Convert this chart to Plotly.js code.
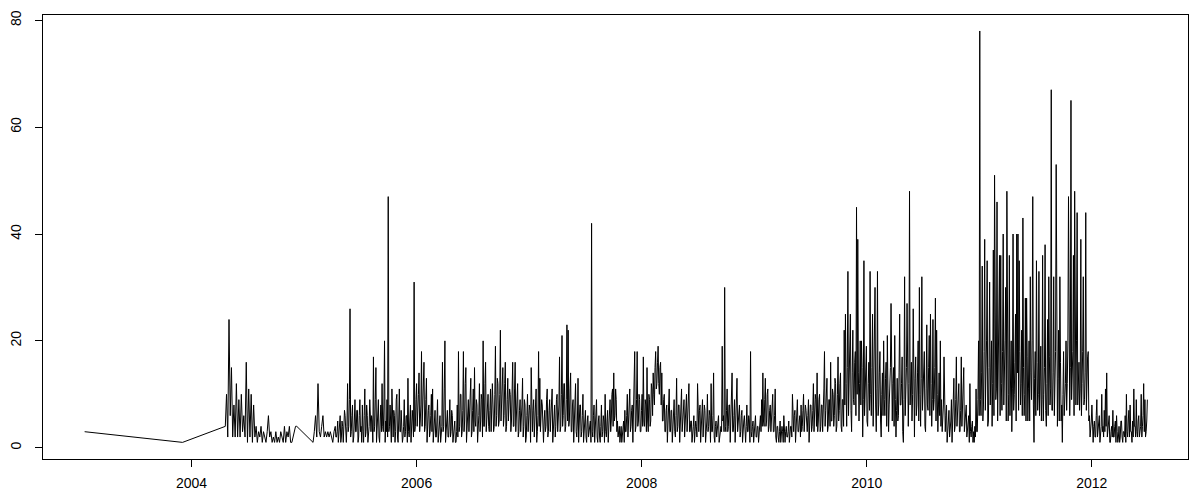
<!DOCTYPE html>
<html>
<head>
<meta charset="utf-8">
<script src="https://cdn.plot.ly/plotly-3.0.1.min.js"></script>
<style>html,body{margin:0;padding:0;background:#fff;}#chart{width:1202px;height:501px;}</style>
</head>
<body>
<div id="chart"></div>
<script>
// sparse early observations (decimal years)
const earlyYears = [2003.05, 2003.92];
const earlyCounts = [3, 1];

// 2004 observations, every 4 days
const segAStart = 2004.30;
const segAStepDays = 4;
const segACounts = [4,10,2,24,6,15,2,8,2,12, 2,9,2,10,3,6,2,16,1,11, 2,10,1,8,2,4,1,3,2,4,
  1,3,2,1,3,6,2,3,1,2, 1,3,1,2,1,3,2,1,4,1, 3,2,4,1,1,2,3,4,4];

// early 2005 observations, every 4 days
const segBStart = 2005.08;
const segBStepDays = 4;
const segBCounts = [1,3,6,2,12,3,2,4,6,2, 3,2,3,2,3,2,1,3];

// dense observations, every 2 days
const segCStart = 2005.277;
const segCStepDays = 2;
const segCCounts = [
  4,2,2,3,
  5,1,3,4,6,1,2,5,4,1,3,7,6,2,1,4,12,3,4,9,
  26,2,3,6,8,1,2,5,9,3,3,7,7,1,2,6,9,3,4,1,
  8,3,1,6,11,2,3,8,6,1,2,4,9,3,3,6,5,1,17,3,
  4,9,15,1,3,7,9,2,1,5,8,3,12,4,3,8,20,1,5,3,
  9,2,47,3,4,8,3,1,11,3,2,7,6,1,3,9,10,2,1,5,
  11,3,3,7,5,1,2,4,9,2,3,6,6,1,13,3,2,5,8,1,
  3,7,5,2,31,3,4,9,12,4,6,10,14,3,5,8,18,4,7,11,
  16,3,4,9,13,1,5,7,8,2,3,6,10,3,11,1,4,7,7,2,
  2,5,9,1,3,6,6,1,2,4,16,3,4,11,20,1,3,6,7,2,
  2,5,9,2,3,7,6,1,2,4,5,1,1,3,8,2,18,3,4,10,
  10,2,3,7,18,3,5,12,15,1,4,8,9,3,6,11,13,2,3,7,
  11,3,15,5,4,9,8,1,3,6,12,3,5,10,9,2,20,4,4,12,
  16,3,5,9,10,4,3,7,11,3,6,12,8,3,4,10,19,4,6,13,
  12,4,5,10,22,5,8,14,15,4,6,12,16,3,4,9,13,5,7,11,
  10,3,5,9,16,4,4,11,16,3,6,10,12,2,3,7,9,3,5,8,
  13,2,4,9,8,1,2,6,10,3,5,8,7,1,15,4,3,7,9,2,
  4,8,11,1,3,6,18,4,13,3,5,9,8,2,1,5,7,3,4,9,
  11,2,3,7,9,3,5,8,11,1,3,6,8,2,4,9,10,3,5,8,
  17,3,4,10,21,4,6,12,12,3,4,9,23,5,22,4,5,11,14,3,
  3,8,9,1,4,7,12,3,2,5,13,1,5,8,8,2,3,6,10,1,
  4,7,7,2,1,5,6,2,3,4,5,1,42,3,2,6,8,1,3,7,
  9,2,1,5,6,2,1,4,8,2,3,6,5,1,10,3,2,5,7,1,
  4,8,9,3,5,10,11,4,14,5,6,11,9,3,5,2,3,4,1,3,
  4,1,2,3,5,1,7,3,3,6,10,2,5,9,11,3,4,7,8,1,
  6,11,18,3,4,9,18,4,5,10,9,3,3,7,10,4,17,5,4,9,
  8,3,15,5,3,10,9,4,5,12,11,6,14,10,8,15,18,11,12,16,
  19,12,10,15,16,8,14,5,5,9,10,3,3,7,8,1,4,9,11,3,
  3,7,7,1,5,9,9,3,2,6,13,3,4,8,8,1,6,10,11,3,
  5,8,9,2,4,7,10,3,6,9,12,3,3,5,5,1,2,4,6,1,
  3,5,4,2,12,3,3,7,8,1,4,6,9,2,5,8,7,1,3,5,
  10,3,4,7,6,1,12,3,3,6,14,2,1,4,5,2,3,5,6,1,
  2,4,4,3,19,5,6,3,30,4,3,7,11,3,4,8,8,1,5,9,
  14,3,3,6,9,1,4,7,13,3,5,8,8,2,3,6,7,1,4,5,
  6,2,1,4,8,3,3,6,5,1,18,3,2,4,5,1,3,5,6,2,
  2,4,4,1,3,5,6,3,9,4,14,5,4,9,13,4,5,10,11,3,
  4,7,8,3,6,9,10,3,3,6,11,2,1,4,4,2,1,3,5,1,
  2,4,3,1,6,2,1,3,4,2,2,3,5,1,3,4,4,2,10,3,
  3,6,7,1,4,8,9,3,3,5,6,2,8,3,4,7,10,3,5,8,
  7,3,3,6,9,1,5,8,8,3,4,7,12,3,6,10,9,4,14,3,
  5,9,10,3,4,8,8,3,6,11,18,4,7,12,13,3,4,9,9,4,
  16,5,5,11,10,4,6,13,12,3,4,10,17,5,7,12,14,4,3,9,
  9,4,22,8,25,12,4,15,33,6,12,18,25,7,3,14,22,9,8,16,
  18,6,45,10,39,14,5,12,20,8,20,15,2,9,35,6,10,18,19,5,
  4,12,16,7,33,10,6,15,25,4,12,18,30,8,3,11,33,6,8,14,
  18,5,2,10,14,6,20,9,6,13,16,4,21,11,3,8,12,15,27,6,
  5,12,15,4,21,9,2,7,13,5,6,14,25,8,8,12,17,3,1,9,
  32,6,9,15,27,5,4,12,48,8,11,16,5,10,26,4,2,13,17,6,
  8,14,20,5,30,10,4,13,32,7,10,16,18,4,3,11,23,8,7,15,
  21,6,25,12,4,9,24,7,9,15,28,5,22,10,3,8,14,6,20,4,
  9,3,5,8,17,3,3,6,8,1,4,7,7,2,3,5,9,1,5,8,
  13,3,4,9,17,4,6,10,12,3,3,7,17,4,8,11,15,3,5,8,
  8,2,3,5,6,1,12,3,2,4,5,1,3,1,4,2,11,3,3,9,
  20,6,78,9,6,14,34,5,8,18,39,7,12,20,35,4,5,15,31,8,
  14,20,4,12,37,6,51,16,9,11,46,5,16,22,36,6,36,12,7,18,
  40,8,12,20,30,5,48,14,5,10,36,6,18,20,3,11,40,7,10,16,
  25,5,40,14,40,7,35,18,8,12,22,6,43,15,6,10,28,5,28,17,
  5,11,20,5,32,14,9,20,47,8,1,13,18,6,35,16,7,10,33,6,
  16,19,5,9,36,5,10,15,38,7,4,12,24,6,32,17,8,11,67,7,
  7,14,32,6,12,18,53,9,4,13,22,5,32,16,5,8,1,10,18,6,
  9,12,20,7,12,20,47,6,6,15,65,9,14,18,36,6,48,14,8,20,
  44,8,16,16,7,11,39,6,12,18,32,8,9,14,44,7,16,17,18,5,
  6,2,3,5,8,1,1,4,5,2,2,6,9,2,3,5,6,1,2,4,
  10,3,4,2,7,3,11,4,14,2,3,5,6,1,1,3,4,2,7,2,
  2,4,5,1,6,3,1,2,4,1,2,5,5,2,1,3,3,2,6,1,
  10,3,2,5,7,2,8,3,3,1,5,2,11,4,4,2,9,3,2,5,
  6,2,3,4,10,2,4,6,12,3,9,2,3,5,9
];

const xTickVals = [2004, 2006, 2008, 2010, 2012];
const xTickText = ["2004", "2006", "2008", "2010", "2012"];
const yTickVals = [0, 20, 40, 60, 80];
const yTickText = ["0", "20", "40", "60", "80"];

const xs = [], ys = [];
function addSeg(start, stepDays, counts) {
  counts.forEach((v, i) => { xs.push(start + i * stepDays / 365.25); ys.push(v); });
}
earlyYears.forEach((t, i) => { xs.push(t); ys.push(earlyCounts[i]); });
addSeg(segAStart, segAStepDays, segACounts);
addSeg(segBStart, segBStepDays, segBCounts);
addSeg(segCStart, segCStepDays, segCCounts);

const font = {family: "Liberation Sans, Arial, sans-serif", size: 14, color: "#000"};

Plotly.newPlot("chart", [{
  x: xs, y: ys, type: "scatter", mode: "lines",
  line: {color: "#000", width: 1}, hoverinfo: "skip"
}], {
  width: 1202, height: 501,
  margin: {l: 43, r: 14, t: 15, b: 42, pad: 0},
  paper_bgcolor: "#fff", plot_bgcolor: "#fff",
  showlegend: false,
  font: font,
  xaxis: {
    range: [2002.68, 2012.855], showgrid: false, zeroline: false,
    showline: true, mirror: true, linecolor: "#000", linewidth: 1,
    ticks: "outside", ticklen: 7, tickcolor: "#000", tickwidth: 1,
    tickvals: xTickVals, ticktext: xTickText, tickfont: font,
    ticklabelstandoff: 4
  },
  yaxis: {
    range: [-2.11, 80.99], showgrid: false, zeroline: false,
    showline: true, mirror: true, linecolor: "#000", linewidth: 1,
    ticks: "outside", ticklen: 7, tickcolor: "#000", tickwidth: 1,
    tickvals: yTickVals, ticktext: yTickText, tickfont: font,
    tickangle: -90, ticklabelstandoff: 8
  }
}, {staticPlot: true, displayModeBar: false});
</script>
</body>
</html>
